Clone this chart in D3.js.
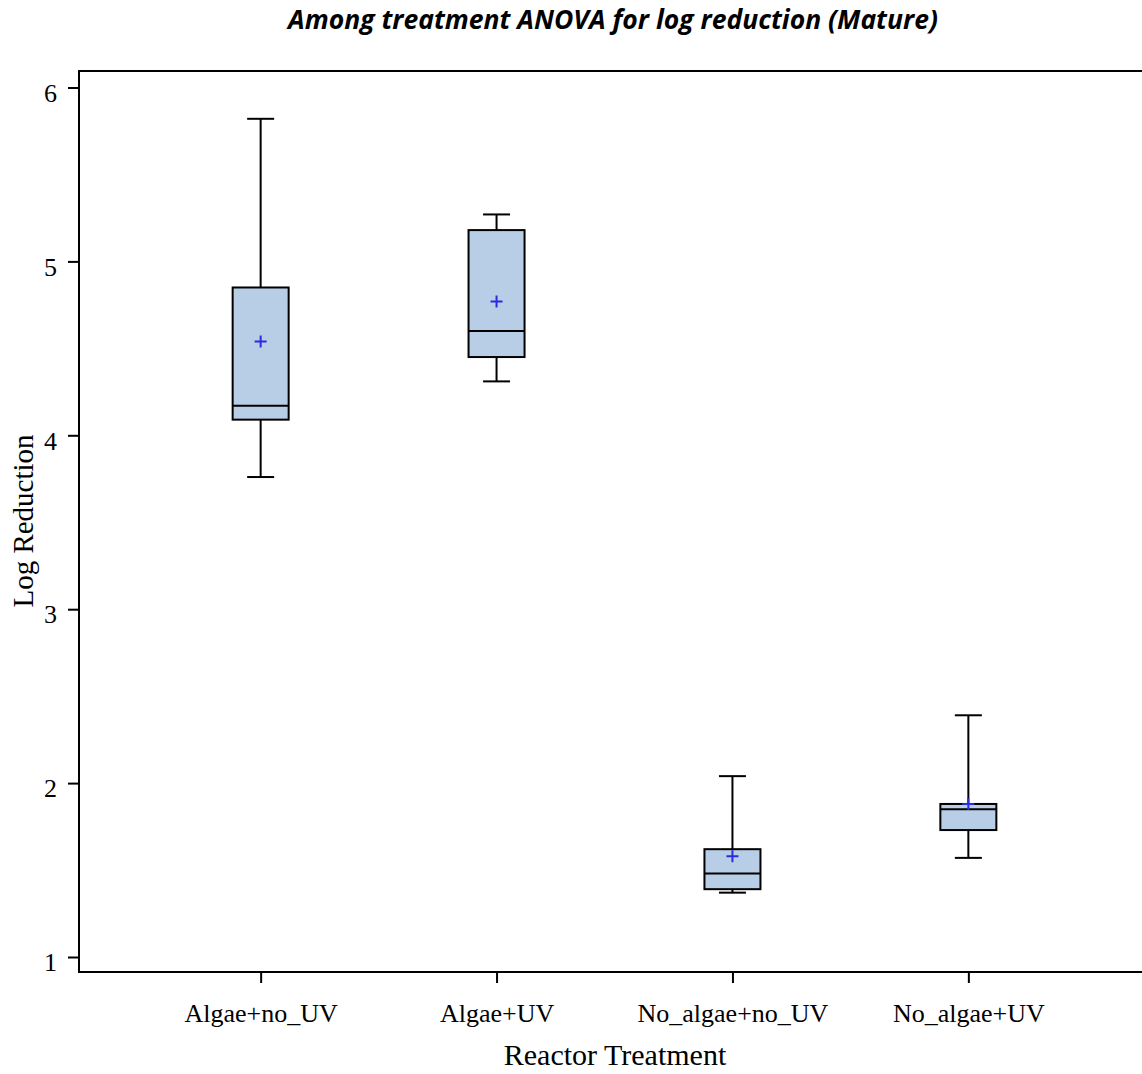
<!DOCTYPE html>
<html>
<head>
<meta charset="utf-8">
<script src="https://cdn.jsdelivr.net/npm/d3@7"></script>
<style>
  html, body { margin: 0; padding: 0; background: #fff; }
  svg { display: block; }
</style>
</head>
<body>
<svg id="chart" width="1142" height="1074"></svg>
<script>
// Log reduction by reactor treatment (box plot summaries)
const categories = ["Algae+no_UV", "Algae+UV", "No_algae+no_UV", "No_algae+UV"];
const whiskerLow = [3.76, 4.31, 1.37, 1.57];
const q1Values   = [4.09, 4.45, 1.39, 1.73];
const medians    = [4.17, 4.60, 1.48, 1.85];
const q3Values   = [4.85, 5.18, 1.62, 1.88];
const whiskerHigh= [5.82, 5.27, 2.04, 2.39];
const means      = [4.54, 4.77, 1.58, 1.88];
const yTicks = [1, 2, 3, 4, 5, 6];

(function () {
  const svg = d3.select("#chart");
  const plotLeft = 79, plotRight = 1150, plotTop = 71, plotBottom = 972;
  const serif = "'Liberation Serif', 'Times New Roman', serif";

  const x = d3.scalePoint().domain(categories).range([plotLeft, plotRight]).padding(0.77);
  const y = d3.scaleLinear().domain([1, 6]).range([957, 87.5]);

  // frame (right edge runs past the canvas)
  svg.append("rect")
    .attr("x", plotLeft).attr("y", plotTop)
    .attr("width", plotRight - plotLeft).attr("height", plotBottom - plotTop)
    .attr("fill", "none").attr("stroke", "#000").attr("stroke-width", 2);

  // axes
  const yAxis = d3.axisLeft(y).tickValues(yTicks).tickSize(11).tickPadding(11).tickFormat(d3.format("d"));
  svg.append("g").attr("transform", `translate(${plotLeft},0)`).call(yAxis)
    .call(g => g.select(".domain").remove())
    .call(g => g.selectAll("line").attr("stroke-width", 2))
    .call(g => g.selectAll("text").attr("dy", "0.53em")
      .attr("font-family", serif).attr("font-size", 26).attr("fill", "#000"));

  const xAxis = d3.axisBottom(x).tickSize(11).tickPadding(21);
  svg.append("g").attr("transform", `translate(0,${plotBottom})`).call(xAxis)
    .call(g => g.select(".domain").remove())
    .call(g => g.selectAll("line").attr("stroke-width", 2))
    .call(g => g.selectAll("text").attr("font-family", serif).attr("font-size", 26).attr("fill", "#000"));

  // boxes
  const boxW = 56, capW = 27;
  const boxes = categories.map((c, i) => ({
    c, lo: whiskerLow[i], q1: q1Values[i], med: medians[i], q3: q3Values[i], hi: whiskerHigh[i], mean: means[i]
  }));

  const g = svg.append("g");
  boxes.forEach(b => {
    const cx = x(b.c);
    const bg = g.append("g");
    // whiskers
    bg.append("line").attr("x1", cx).attr("x2", cx).attr("y1", y(b.hi)).attr("y2", y(b.q3))
      .attr("stroke", "#000").attr("stroke-width", 2);
    bg.append("line").attr("x1", cx).attr("x2", cx).attr("y1", y(b.q1)).attr("y2", y(b.lo))
      .attr("stroke", "#000").attr("stroke-width", 2);
    [b.hi, b.lo].forEach(v => {
      bg.append("line").attr("x1", cx - capW / 2).attr("x2", cx + capW / 2)
        .attr("y1", y(v)).attr("y2", y(v)).attr("stroke", "#000").attr("stroke-width", 2);
    });
    // box
    bg.append("rect").attr("x", cx - boxW / 2).attr("y", y(b.q3))
      .attr("width", boxW).attr("height", y(b.q1) - y(b.q3))
      .attr("fill", "#b8cee6").attr("stroke", "#000").attr("stroke-width", 2);
    // median
    bg.append("line").attr("x1", cx - boxW / 2).attr("x2", cx + boxW / 2)
      .attr("y1", y(b.med)).attr("y2", y(b.med)).attr("stroke", "#000").attr("stroke-width", 2);
    // mean marker
    const my = y(b.mean), s = 6;
    bg.append("path").attr("d", `M${cx - s},${my}H${cx + s}M${cx},${my - s}V${my + s}`)
      .attr("stroke", "#2a2ae0").attr("stroke-width", 2).attr("fill", "none");
  });

  // titles
  svg.append("text").attr("x", 613).attr("y", 29).attr("text-anchor", "middle")
    .attr("font-family", "'Open Sans', sans-serif").attr("font-style", "italic").attr("font-weight", "bold")
    .attr("font-size", 26.5).text("Among treatment ANOVA for log reduction (Mature)");

  svg.append("text").attr("x", 615).attr("y", 1065).attr("text-anchor", "middle")
    .attr("font-family", serif).attr("font-size", 30)
    .text("Reactor Treatment");

  svg.append("text").attr("transform", "translate(33,521) rotate(-90)").attr("text-anchor", "middle")
    .attr("font-family", serif).attr("font-size", 29)
    .text("Log Reduction");
})();
</script>
</body>
</html>
